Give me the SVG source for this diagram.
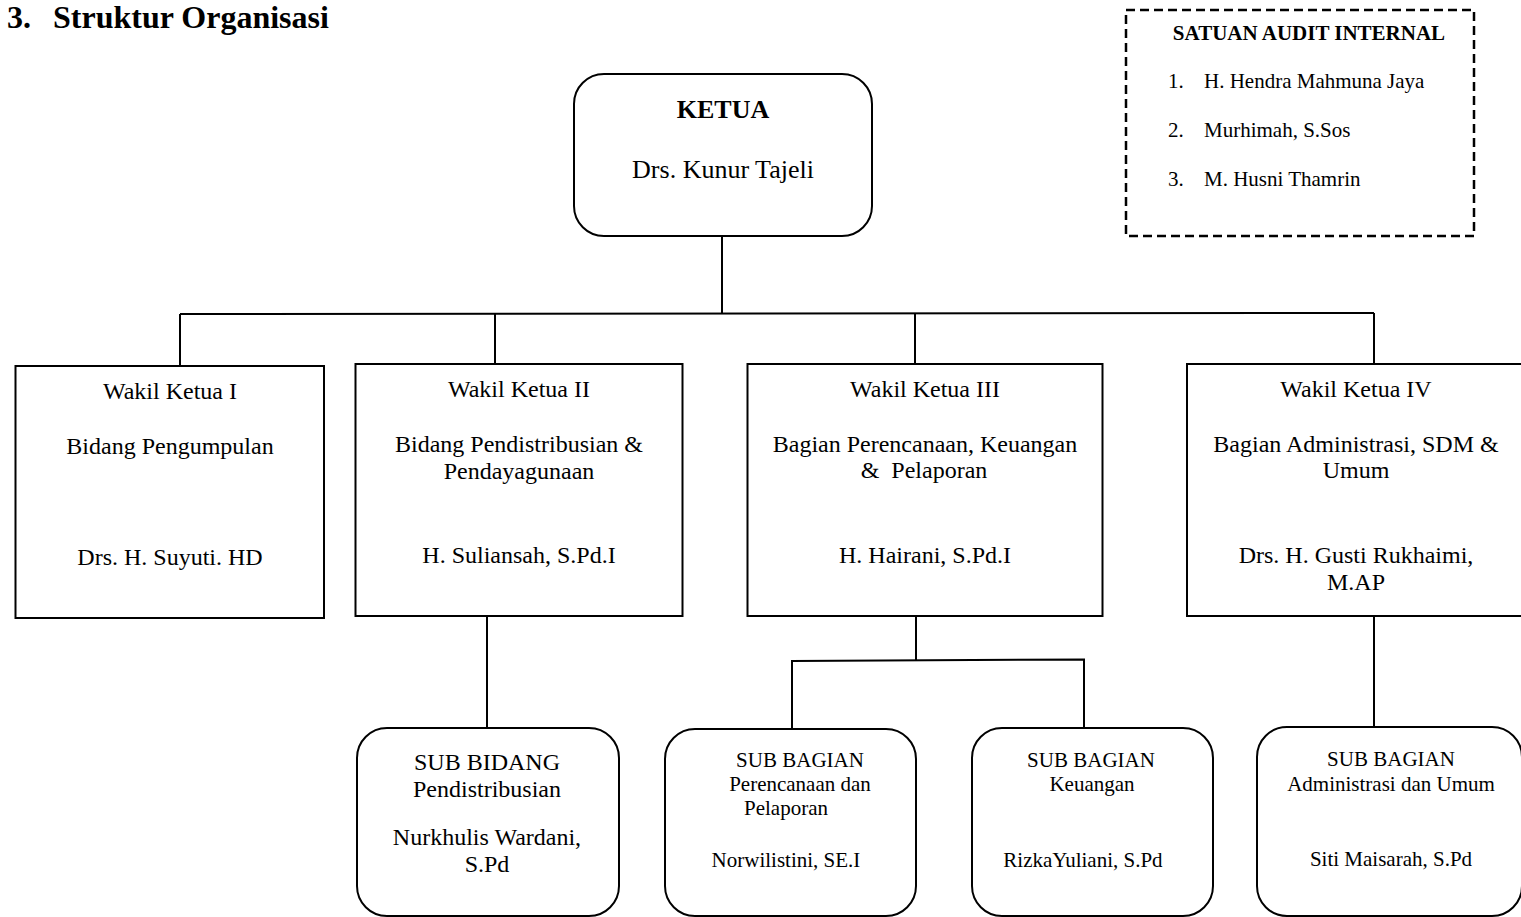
<svg xmlns="http://www.w3.org/2000/svg" width="1521" height="917" viewBox="0 0 1521 917">
<style>
text{font-family:"Liberation Serif","Times New Roman",serif;fill:#000}
.b{font-weight:bold}
.box{fill:#fff;stroke:#000;stroke-width:2}
.dash{fill:#fff;stroke:#000;stroke-width:2.5;stroke-dasharray:9 5}
.ln{fill:none;stroke:#000;stroke-width:2}
.m{text-anchor:middle}
.f26{font-size:26px}
.f24{font-size:24px}
.f21{font-size:21px}
</style>
<rect width="1521" height="917" fill="#fff"/>
<g id="title">
<text class="b" x="7" y="28" font-size="32">3.</text>
<text class="b" x="53" y="28" font-size="32">Struktur Organisasi</text>
</g>
<g id="audit">
<rect class="dash" x="1126" y="10" width="348" height="226"/>
<text class="b f21 m" x="1309" y="40">SATUAN AUDIT INTERNAL</text>
<text class="f21" x="1168" y="88">1.</text>
<text class="f21" x="1204" y="88">H. Hendra Mahmuna Jaya</text>
<text class="f21" x="1168" y="137">2.</text>
<text class="f21" x="1204" y="137">Murhimah, S.Sos</text>
<text class="f21" x="1168" y="186">3.</text>
<text class="f21" x="1204" y="186">M. Husni Thamrin</text>
</g>
<g id="connectors">
<path class="ln" d="M722 236 V314"/>
<path class="ln" d="M180 314 L1374 313"/>
<path class="ln" d="M180 314 V366"/>
<path class="ln" d="M495 314 V364"/>
<path class="ln" d="M915 313 V364"/>
<path class="ln" d="M1374 313 V364"/>
<path class="ln" d="M487 616 V728"/>
<path class="ln" d="M916 616 V660"/>
<path class="ln" d="M792 728 V661 L1084 659.5 V728"/>
<path class="ln" d="M1374 616 V727"/>
</g>
<g id="ketua">
<rect class="box" x="574" y="74" width="298" height="162" rx="30"/>
<text class="b f26 m" x="723" y="118">KETUA</text>
<text class="f26 m" x="723" y="178">Drs. Kunur Tajeli</text>
</g>
<g id="wakil1">
<rect class="box" x="15.5" y="366" width="308.5" height="252"/>
<text class="f24 m" x="170" y="399">Wakil Ketua I</text>
<text class="f24 m" x="170" y="454">Bidang Pengumpulan</text>
<text class="f24 m" x="170" y="565">Drs. H. Suyuti. HD</text>
</g>
<g id="wakil2">
<rect class="box" x="355.5" y="364" width="327" height="252"/>
<text class="f24 m" x="519" y="397">Wakil Ketua II</text>
<text class="f24 m" x="519" y="452">Bidang Pendistribusian &amp;</text>
<text class="f24 m" x="519" y="479">Pendayagunaan</text>
<text class="f24 m" x="519" y="563">H. Suliansah, S.Pd.I</text>
</g>
<g id="wakil3">
<rect class="box" x="747.5" y="364" width="355" height="252"/>
<text class="f24 m" x="925" y="397">Wakil Ketua III</text>
<text class="f24 m" x="925" y="452">Bagian Perencanaan, Keuangan</text>
<text class="f24 m" x="924" y="478" xml:space="preserve">&amp;  Pelaporan</text>
<text class="f24 m" x="925" y="563">H. Hairani, S.Pd.I</text>
</g>
<g id="wakil4">
<rect class="box" x="1187" y="364" width="340" height="252"/>
<text class="f24 m" x="1356" y="397">Wakil Ketua IV</text>
<text class="f24 m" x="1356" y="452">Bagian Administrasi, SDM &amp;</text>
<text class="f24 m" x="1356" y="478">Umum</text>
<text class="f24 m" x="1356" y="563">Drs. H. Gusti Rukhaimi,</text>
<text class="f24 m" x="1356" y="590">M.AP</text>
</g>
<g id="subbidang">
<rect class="box" x="357" y="728" width="262" height="188" rx="30"/>
<text class="f24 m" x="487" y="770">SUB BIDANG</text>
<text class="f24 m" x="487" y="797">Pendistribusian</text>
<text class="f24 m" x="487" y="845">Nurkhulis Wardani,</text>
<text class="f24 m" x="487" y="872">S.Pd</text>
</g>
<g id="subperencanaan">
<rect class="box" x="665" y="729" width="251" height="187" rx="30"/>
<text class="f21 m" x="800" y="767">SUB BAGIAN</text>
<text class="f21 m" x="800" y="791">Perencanaan dan</text>
<text class="f21 m" x="786" y="815">Pelaporan</text>
<text class="f21 m" x="786" y="867">Norwilistini, SE.I</text>
</g>
<g id="subkeuangan">
<rect class="box" x="972" y="728" width="241" height="188" rx="30"/>
<text class="f21 m" x="1091" y="767">SUB BAGIAN</text>
<text class="f21 m" x="1092" y="791">Keuangan</text>
<text class="f21 m" x="1083" y="867">RizkaYuliani, S.Pd</text>
</g>
<g id="subadmin">
<rect class="box" x="1257" y="727" width="265" height="189" rx="30"/>
<text class="f21 m" x="1391" y="766">SUB BAGIAN</text>
<text class="f21 m" x="1391" y="791">Administrasi dan Umum</text>
<text class="f21 m" x="1391" y="866">Siti Maisarah, S.Pd</text>
</g>
</svg>
